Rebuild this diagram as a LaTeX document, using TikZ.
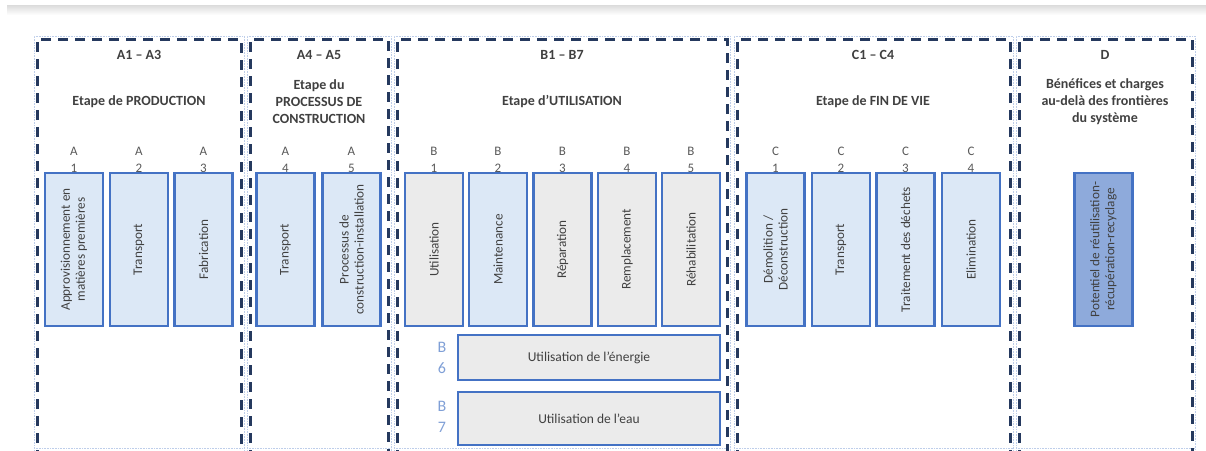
\documentclass[tikz,border=0pt]{standalone}
\usepackage{fontspec}
\setmainfont{Carlito}
\usetikzlibrary{positioning}

\definecolor{framecol}{HTML}{25395E}
\definecolor{edgecol}{HTML}{4472C4}
\definecolor{paleblue}{HTML}{DCE8F6}
\definecolor{palegray}{HTML}{EBEBEB}
\definecolor{midblue}{HTML}{8EAADB}
\definecolor{txtcol}{HTML}{404040}
\definecolor{codecol}{HTML}{595959}
\definecolor{sidecol}{HTML}{7F9FD6}

\tikzset{
  frame/.style={draw=framecol, line width=3pt, dash pattern=on 10pt off 7pt},
  ghost/.style={draw=edgecol!35, line width=0.6pt, densely dotted},
  phasebox/.style={draw=edgecol, line width=2.2pt, fill=paleblue, rotate=90,
    minimum width=153pt, minimum height=58pt, inner sep=1pt, align=center,
    text=txtcol, font=\fontsize{13.2}{15}\selectfont},
  usebox/.style={phasebox, fill=palegray},
  widebox/.style={draw=edgecol, line width=2.2pt, fill=palegray,
    minimum width=262pt, text=txtcol, font=\fontsize{13.5}{15}\selectfont},
  code/.style={text=codecol, align=center, font=\fontsize{13}{17}\selectfont},
  sidecode/.style={text=sidecol, align=center, font=\fontsize{16}{21}\selectfont},
  heading/.style={text=txtcol, align=center, font=\bfseries\fontsize{14}{17}\selectfont}
}

\begin{document}
\begin{tikzpicture}[x=1pt, y=-1pt]
		\useasboundingbox (0,0) rectangle (1206,450);
		\clip (0,0) rectangle (1206,450);

		% screenshot shadow along the top
		\shade[top color=gray!28, bottom color=white] (7,5) rectangle (1206,15);

		% module frames
		\draw[ghost] (34,460) |- (244,36) -- (244,460) (34,448) -- (244,448);
		\draw[ghost] (247,460) |- (391,36) -- (391,460) (247,448) -- (391,448);
		\draw[ghost] (394,460) |- (730,36) -- (730,460) (394,448) -- (730,448);
		\draw[ghost] (734,460) |- (1013,36) -- (1013,460) (734,448) -- (1013,448);
		\draw[ghost] (1016,460) |- (1195,36) -- (1195,460) (1016,448) -- (1195,448);

		\draw[frame] (37,460) |- (241,39) -- (241,460);
		\draw[frame] (250,460) |- (388,39) -- (388,460);
		\draw[frame] (397,460) |- (727,39) -- (727,460);
		\draw[frame] (737,460) |- (1010,39) -- (1010,460);
		\draw[frame] (1019,460) |- (1192,39) -- (1192,460);

		% headings
		\node[heading] (hA) at (139,55) {A1 -- A3};
		\node[heading] (tA) at (139,102) {Etape de PRODUCTION};
		\node[heading] (hAA) at (319,55) {A4 -- A5};
		\node[heading] (tAA) at (319,102) {Etape du\\PROCESSUS DE\\CONSTRUCTION};
		\node[heading] (hB) at (562,55) {B1 -- B7};
		\node[heading] (tB) at (562,102) {Etape d’UTILISATION};
		\node[heading] (hC) at (873,55) {C1 -- C4};
		\node[heading] (tC) at (873,102) {Etape de FIN DE VIE};
		\node[heading] (hD) at (1105,55) {D};
		\node[heading] (tD) at (1105,102) {Bénéfices et charges\\au-delà des frontières\\du système};

		% A modules
		\node[code] (cA1) at (74,160) {A\\1};
		\node[code] (cA2) at (139,160) {A\\2};
		\node[code] (cA3) at (203.5,160) {A\\3};
		\node[code] (cA4) at (285.5,160) {A\\4};
		\node[code] (cA5) at (351.5,160) {A\\5};
		\node[phasebox] (A1) at (74,249.5) {Approvisionnement en\\matières premières};
		\node[phasebox] (A2) at (139,249.5) {Transport};
		\node[phasebox] (A3) at (203.5,249.5) {Fabrication};
		\node[phasebox] (A4) at (285.5,249.5) {Transport};
		\node[phasebox] (A5) at (351.5,249.5) {Processus de\\construction-installation};

		% B modules
		\node[code] (cB1) at (434,160) {B\\1};
		\node[code] (cB2) at (498,160) {B\\2};
		\node[code] (cB3) at (562.5,160) {B\\3};
		\node[code] (cB4) at (627,160) {B\\4};
		\node[code] (cB5) at (691,160) {B\\5};
		\node[usebox] (B1) at (434,249.5) {Utilisation};
		\node[phasebox] (B2) at (498,249.5) {Maintenance};
		\node[usebox] (B3) at (562.5,249.5) {Réparation};
		\node[usebox] (B4) at (627,249.5) {Remplacement};
		\node[usebox] (B5) at (691,249.5) {Réhabilitation};

		\node[widebox, minimum height=45pt] (B6) at (589,357.5) {Utilisation de l’énergie};
		\node[widebox, minimum height=53pt] (B7) at (589,418.5) {Utilisation de l’eau};
		\node[sidecode] (cB6) at (442,357.5) {B\\6};
		\node[sidecode] (cB7) at (442,417) {B\\7};

		% C modules
		\node[code] (cC1) at (775.5,160) {C\\1};
		\node[code] (cC2) at (841,160) {C\\2};
		\node[code] (cC3) at (905.5,160) {C\\3};
		\node[code] (cC4) at (971,160) {C\\4};
		\node[phasebox] (C1) at (775.5,249.5) {Démolition /\\Déconstruction};
		\node[phasebox] (C2) at (841,249.5) {Transport};
		\node[phasebox] (C3) at (905.5,249.5) {Traitement des déchets};
		\node[phasebox] (C4) at (971,249.5) {Elimination};

		% D module
		\node[phasebox, fill=midblue] (D) at (1103.5,249.5) {Potentiel de réutilisation-\\récupération-recyclage};

		\end{tikzpicture}
\end{document}
